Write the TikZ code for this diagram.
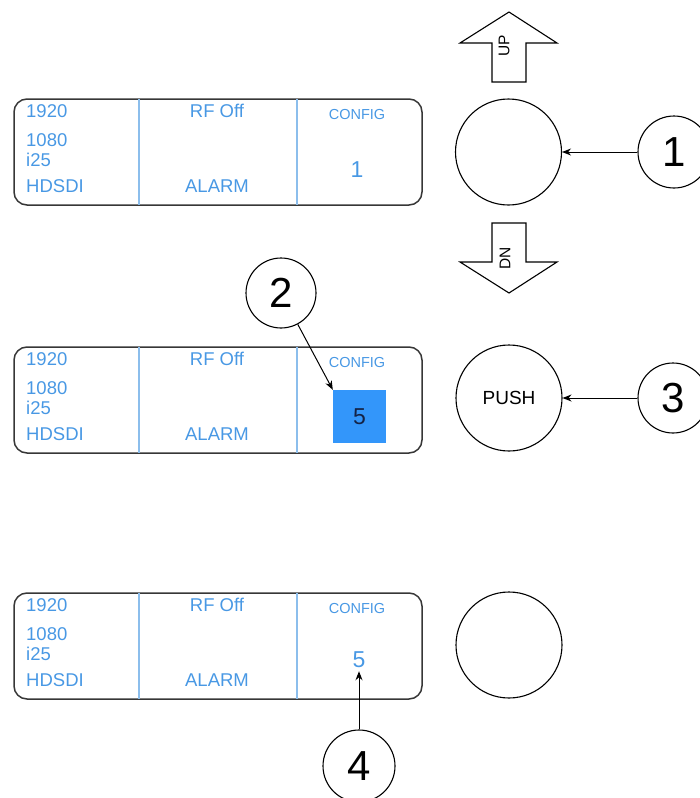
\documentclass[tikz,border=0pt]{standalone}
\usepackage{fontspec}
\setmainfont{Liberation Sans}
\usetikzlibrary{positioning, arrows.meta}

\definecolor{lcdblue}{RGB}{72,152,228}
\definecolor{lcdline}{RGB}{140,190,236}
\definecolor{selblue}{RGB}{51,150,250}
\definecolor{framegrey}{RGB}{55,55,55}
\definecolor{navy}{RGB}{20,35,70}

\begin{document}
\begin{tikzpicture}[x=1pt, y=-1pt, >={Stealth[length=9pt, width=7pt]},
    panel/.style={draw=framegrey, line width=1.5pt, rounded corners=13pt, minimum width=408pt, minimum height=106pt},
    lcd/.style={text=lcdblue, inner sep=0pt, font=\fontsize{18.5}{18.5}\selectfont},
    tag/.style={text=lcdblue, inner sep=0pt, font=\fontsize{14.5}{14.5}\selectfont},
    knob/.style={draw, circle, line width=1.1pt, minimum size=106pt, inner sep=0pt},
    callout/.style={draw, circle, line width=1.1pt, minimum size=72pt, inner sep=0pt, font=\fontsize{42}{42}\selectfont},
    keytext/.style={inner sep=0pt, rotate=90, font=\fontsize{15.5}{15.5}\selectfont}]

\useasboundingbox (0,0) rectangle (699,798);

% the three display panels
\foreach \i/\t in {1/99, 2/347, 3/593} {
    \node[panel] (panel\i) at (218,\t+53) {};
    \draw[lcdline, line width=1.3pt] (139,\t) -- (139,\t+106);
    \draw[lcdline, line width=1.3pt] (297,\t) -- (297,\t+106);
    \node[lcd, anchor=west] (hres\i) at (26,\t+12) {1920};
    \node[lcd, anchor=west] (vres\i) at (26,\t+41) {1080};
    \node[lcd, anchor=west] (rate\i) at (26,\t+61) {i25};
    \node[lcd, anchor=west] (sdi\i) at (26,\t+87) {HDSDI};
    \node[lcd] (rf\i) at (217,\t+12) {RF Off};
    \node[lcd] (alarm\i) at (217,\t+87) {ALARM};
    \node[tag] (config\i) at (357,\t+16) {CONFIG};
}

% config values
\node[lcd, font=\fontsize{23}{23}\selectfont, inner sep=2pt] (val1) at (357,170) {1};
\node[fill=selblue, minimum size=53pt, inner sep=0pt, text=navy, font=\fontsize{23}{23}\selectfont] (val2) at (359.5,416.5) {5};
\node[lcd, font=\fontsize{23}{23}\selectfont, inner sep=3pt] (val3) at (359,660) {5};

% rotary knob with up/down keys
\draw[line width=1.1pt] (492,82) -- (492,43) -- (460,43) -- (509,12) -- (557,43) -- (526,43) -- (526,82) -- cycle;
\node[keytext] (up) at (504,46) {UP};
\draw[line width=1.1pt] (492,223) -- (526,223) -- (526,262) -- (557,262) -- (509,293) -- (460,262) -- (492,262) -- cycle;
\node[keytext] (dn) at (505,258) {DN};

\node[knob] (knob1) at (508.5,152) {};
\node[knob, font=\fontsize{19}{19}\selectfont] (knob2) at (509,398) {PUSH};
\node[knob] (knob3) at (509,645) {};

% callouts
\node[callout] (c1) at (674,152) {1};
\node[callout, minimum size=70pt] (c2) at (281,293) {2};
\node[callout, minimum size=70pt] (c3) at (673,398) {3};
\node[callout] (c4) at (359,766) {4};

\draw[->, line width=1pt] (c1) -- (knob1);
\draw[->, line width=1pt] (c2) -- (val2.north west);
\draw[->, line width=1pt] (c3) -- (knob2);
\draw[->, line width=1pt] (c4) -- (val3);
\end{tikzpicture}
\end{document}
